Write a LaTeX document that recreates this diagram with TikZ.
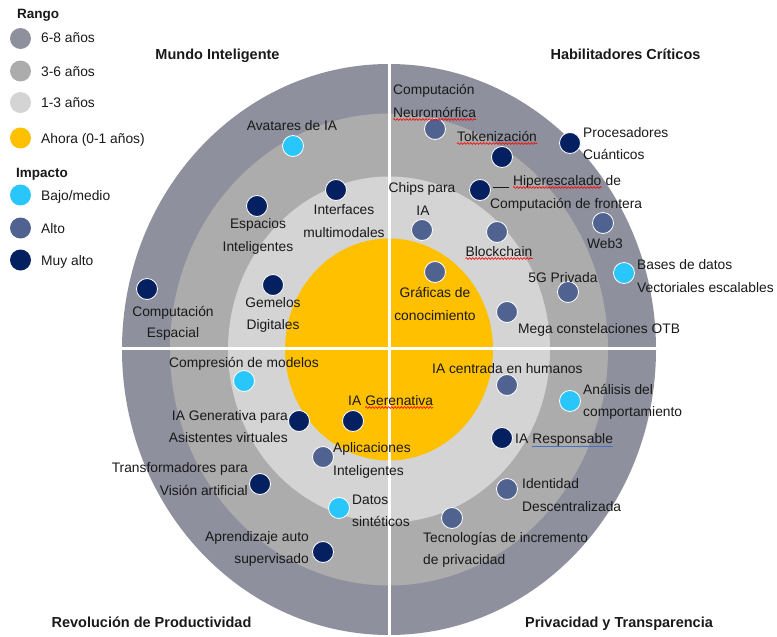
\documentclass[tikz,border=0pt]{standalone}
\usepackage{fontspec}
\setmainfont{Liberation Sans}
\usetikzlibrary{decorations.pathmorphing}
\definecolor{ringA}{RGB}{142,144,157}
\definecolor{ringB}{RGB}{172,172,172}
\definecolor{ringC}{RGB}{212,212,212}
\definecolor{ringD}{RGB}{255,192,0}
\definecolor{impBM}{RGB}{40,198,250}
\definecolor{impAL}{RGB}{80,98,143}
\definecolor{impMA}{RGB}{4,32,96}
\definecolor{txt}{RGB}{25,25,25}
\definecolor{ulblue}{RGB}{68,114,196}
\tikzset{
  lbl/.style={inner sep=0pt, text=txt, font=\fontsize{13.8}{16}\selectfont},
  ttl/.style={inner sep=0pt, text=txt, font=\fontsize{14.5}{17}\selectfont\bfseries},
  lgh/.style={inner sep=0pt, text=txt, font=\fontsize{13.5}{16}\selectfont\bfseries},
  dot/.style={circle, minimum size=21pt, inner sep=0pt, draw=white, line width=0.8pt},
  lgdot/.style={circle, minimum size=21pt, inner sep=0pt},
  bm/.style={dot, fill=impBM},
  al/.style={dot, fill=impAL},
  ma/.style={dot, fill=impMA},
  squig/.style={red, line width=0.6pt, decorate, decoration={snake, amplitude=0.9pt, segment length=3.2pt}},
  sep/.style={white, line width=3pt}
}
\begin{document}
\begin{tikzpicture}[x=1pt,y=-1pt]
\useasboundingbox (0,0) rectangle (777,637);
% rings
\fill[ringA] (389,349.5) ellipse [x radius=267pt, y radius=285.5pt];
\fill[ringB] (389,349.5) ellipse [x radius=219pt, y radius=236pt];
\fill[ringC] (389,349.5) ellipse [x radius=161pt, y radius=173pt];
\fill[ringD] (389,349.5) ellipse [x radius=104pt, y radius=111pt];
\coordinate (hl) at (122,348.5);
\coordinate (hr) at (656,348.5);
\coordinate (vt) at (389,64);
\coordinate (vb) at (389,635);
\draw[sep] (hl) -- (hr);
\draw[sep] (vt) -- (vb);

% legend
\node[lgh, anchor=base west] (rango) at (17,19) {Rango};
\node[lgdot, fill=ringA] (lg1) at (20.5,38.5) {};
\node[lgdot, fill=ringB] (lg2) at (20.5,71) {};
\node[lgdot, fill=ringC] (lg3) at (20.5,102.5) {};
\node[lgdot, fill=ringD] (lg4) at (20.5,138) {};
\node[lbl, anchor=base west] (lt1) at (41,42) {6-8 años};
\node[lbl, anchor=base west] (lt2) at (41,76) {3-6 años};
\node[lbl, anchor=base west] (lt3) at (41,107) {1-3 años};
\node[lbl, anchor=base west] (lt4) at (41,143) {Ahora (0-1 años)};
\node[lgh, anchor=base west] (impacto) at (16,177) {Impacto};
\node[lgdot, fill=impBM] (lg5) at (20.5,195) {};
\node[lgdot, fill=impAL] (lg6) at (20.5,228) {};
\node[lgdot, fill=impMA] (lg7) at (20.5,260) {};
\node[lbl, anchor=base west] (lt5) at (41,200) {Bajo/medio};
\node[lbl, anchor=base west] (lt6) at (41,233) {Alto};
\node[lbl, anchor=base west] (lt7) at (41,265) {Muy alto};

% quadrant titles
\node[ttl, anchor=base] (q1) at (217.5,59) {Mundo Inteligente};
\node[ttl, anchor=base] (q2) at (625.5,59) {Habilitadores Críticos};
\node[ttl, anchor=base] (q3) at (151.5,627) {Revolución de Productividad};
\node[ttl, anchor=base] (q4) at (619,627) {Privacidad y Transparencia};

% dots
\node[bm] (avatar) at (293,146) {};
\node[ma] (interf) at (336,190) {};
\node[ma] (espac) at (257,206) {};
\node[ma] (gemel) at (273,285) {};
\node[ma] (compesp) at (147,289) {};
\node[al] (neuro) at (435,129) {};
\node[ma] (token) at (502,157) {};
\node[ma] (quant) at (570,143) {};
\node[al] (chips) at (422,230) {};
\node[ma] (hiper) at (480,190) {};
\node[al] (block) at (497,232) {};
\node[al] (web3) at (603,223) {};
\node[bm] (vecdb) at (624,273) {};
\node[al] (g5) at (568,292) {};
\node[al] (graf) at (435,272) {};
\node[al] (mega) at (507,312) {};
\node[bm] (compr) at (244,381) {};
\node[ma] (iagasis) at (299,421) {};
\node[ma] (iagen) at (353,421) {};
\node[al] (aplic) at (323,457) {};
\node[ma] (transf) at (260,484) {};
\node[bm] (datos) at (339,508) {};
\node[ma] (aprend) at (323,552) {};
\node[al] (centr) at (507,385) {};
\node[bm] (anal) at (570,401) {};
\node[ma] (resp) at (502,438) {};
\node[al] (ident) at (507,489) {};
\node[al] (tecpriv) at (452,518) {};

% labels: Mundo Inteligente
\node[lbl, anchor=base] (tavatar) at (292,130) {Avatares de IA};
\node[lbl, anchor=base] (tinterf1) at (344,214) {Interfaces};
\node[lbl, anchor=base] (tinterf2) at (344,237) {multimodales};
\node[lbl, anchor=base] (tespac1) at (258,228) {Espacios};
\node[lbl, anchor=base] (tespac2) at (258,251) {Inteligentes};
\node[lbl, anchor=base] (tgemel1) at (273,307) {Gemelos};
\node[lbl, anchor=base] (tgemel2) at (273,329) {Digitales};
\node[lbl, anchor=base] (tcompesp1) at (173,316) {Computación};
\node[lbl, anchor=base] (tcompesp2) at (173,337) {Espacial};

% labels: Habilitadores
\node[lbl, anchor=base west] (tneuro1) at (393,94) {Computación};
\node[lbl, anchor=base west] (tneuro2) at (393,117) {Neuromórfica};
\node[lbl, anchor=base] (ttoken) at (497,141) {Tokenización};
\node[lbl, anchor=base west] (tquant1) at (583,137) {Procesadores};
\node[lbl, anchor=base west] (tquant2) at (583,159) {Cuánticos};
\node[lbl, anchor=base] (tchips1) at (422,192) {Chips para};
\node[lbl, anchor=base] (tchips2) at (423,215) {IA};
\node[lbl, anchor=base west] (thiper1) at (513,185) {Hiperescalado};
\node[lbl, anchor=base west] (thiper1b) at ([xshift=3.8pt]thiper1.base east) {de};
\node[lbl, anchor=base west] (thiper2) at (490,208) {Computación de frontera};
\node[lbl, anchor=base] (tblock) at (499,256) {Blockchain};
\node[lbl, anchor=base] (tweb3) at (605,248) {Web3};
\node[lbl, anchor=base west] (tvecdb1) at (637,269) {Bases de datos};
\node[lbl, anchor=base west] (tvecdb2) at (637,292) {Vectoriales escalables};
\node[lbl, anchor=base] (tg5) at (563,282) {5G Privada};
\node[lbl, anchor=base] (tgraf1) at (435,297) {Gráficas de};
\node[lbl, anchor=base] (tgraf2) at (435,320) {conocimiento};
\node[lbl, anchor=base west] (tmega) at (518,333) {Mega constelaciones OTB};

% labels: Revolucion
\node[lbl, anchor=base] (tcompr) at (244,367) {Compresión de modelos};
\node[lbl, anchor=base east] (tiagasis1) at (288,420) {IA Generativa para};
\node[lbl, anchor=base east] (tiagasis2) at (288,442) {Asistentes virtuales};
\node[lbl, anchor=base west] (tiagen1) at (348,405) {IA};
\node[lbl, anchor=base west] (tiagen2) at ([xshift=3.8pt]tiagen1.base east) {Gerenativa};
\node[lbl, anchor=base west] (taplic1) at (333,452) {Aplicaciones};
\node[lbl, anchor=base west] (taplic2) at (333,475) {Inteligentes};
\node[lbl, anchor=base east] (ttransf1) at (248,472) {Transformadores para};
\node[lbl, anchor=base east] (ttransf2) at (248,495) {Visión artificial};
\node[lbl, anchor=base west] (tdatos1) at (352,504) {Datos};
\node[lbl, anchor=base west] (tdatos2) at (352,526) {sintéticos};
\node[lbl, anchor=base east] (taprend1) at (309,541) {Aprendizaje auto};
\node[lbl, anchor=base east] (taprend2) at (309,563) {supervisado};

% labels: Privacidad
\node[lbl, anchor=base west] (tcentr) at (432,373) {IA centrada en humanos};
\node[lbl, anchor=base west] (tanal1) at (583,394) {Análisis del};
\node[lbl, anchor=base west] (tanal2) at (583,416) {comportamiento};
\node[lbl, anchor=base west] (tresp1) at (515,443) {IA};
\node[lbl, anchor=base west] (tresp2) at ([xshift=3.8pt]tresp1.base east) {Responsable};
\node[lbl, anchor=base west] (tident1) at (522,488) {Identidad};
\node[lbl, anchor=base west] (tident2) at (522,511) {Descentralizada};
\node[lbl, anchor=base west] (ttec1) at (423,542) {Tecnologías de incremento};
\node[lbl, anchor=base west] (ttec2) at (423,564) {de privacidad};

% connector
\draw[txt, line width=0.8pt] ([xshift=2.5pt,yshift=3pt]hiper.east) -- ([xshift=-4pt,yshift=3pt]hiper.east -| thiper1.west);

% spell-check marks
\draw[squig] ([yshift=-2.5pt]tneuro2.base west) -- ([yshift=-2.5pt]tneuro2.base east);
\draw[squig] ([yshift=-2.5pt]ttoken.base west) -- ([yshift=-2.5pt]ttoken.base east);
\draw[squig] ([yshift=-2.5pt]thiper1.base west) -- ([yshift=-2.5pt]thiper1.base east);
\draw[squig] ([yshift=-2.5pt]tblock.base west) -- ([yshift=-2.5pt]tblock.base east);
\draw[squig] ([yshift=-2.5pt]tiagen2.base west) -- ([yshift=-2.5pt]tiagen2.base east);
\draw[ulblue, line width=0.8pt] ([yshift=-3pt]tresp2.base west) -- ([yshift=-3pt]tresp2.base east);
\end{tikzpicture}
\end{document}
